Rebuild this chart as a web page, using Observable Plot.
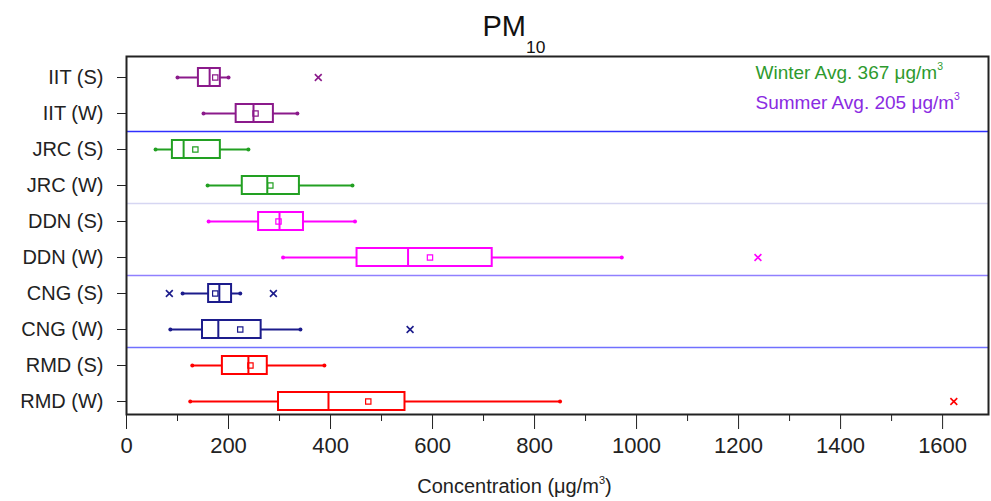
<!DOCTYPE html>
<html><head><meta charset="utf-8">
<script src="https://cdn.jsdelivr.net/npm/d3@7"></script>
<script src="https://cdn.jsdelivr.net/npm/@observablehq/plot@0.6"></script>
<style>
body{margin:0;background:#fff;font-family:"Liberation Sans",Arial,sans-serif}
#chart svg{display:block}
</style>
</head><body><div id="chart"></div>
<script>
// ---- data ----
const sites = ["IIT (S)","IIT (W)","JRC (S)","JRC (W)","DDN (S)","DDN (W)","CNG (S)","CNG (W)","RMD (S)","RMD (W)"];
const siteColors = ["#8b1a8b","#8b1a8b","#22a022","#22a022","#ff00ff","#ff00ff","#1c1c8c","#1c1c8c","#ff0000","#ff0000"];
const whiskerLow  = [100,151, 57,159,161,307,110, 86,129,125];
const quartile1   = [141,215, 90,227,259,452,161,149,188,298];
const medianValue = [163,249,112,276,300,552,182,180,239,396];
const quartile3   = [184,288,184,339,347,717,206,264,276,546];
const whiskerHigh = [200,335,239,443,448,971,223,341,388,850];
const meanValue   = [174,253,135,282,298,595,174,223,243,474];
const outlierSite  = ["IIT (S)","CNG (S)","CNG (S)","CNG (W)","DDN (W)","RMD (W)"];
const outlierValue = [376,84,288,556,1238,1622];
const separatorAfter = ["IIT (W)","JRC (W)","DDN (W)","CNG (W)"];
const separatorColor = ["#3030ff","#d6d6f2","#9080ff","#7070ff"];
const majorTicks = [0,200,400,600,800,1000,1200,1400,1600];
const minorTicks = [100,300,500,700,900,1100,1300,1500];
const titleText = "PM_{10}";
const xLabelText = "Concentration (μg/m^{3})";
const legendText = ["Winter Avg. 367 μg/m^{3}","Summer Avg. 205 μg/m^{3}"];
const legendColor = ["#2e9a2e","#8a2be2"];

// ---- tables ----
const rows = sites.map((s,i)=>({site:s,color:siteColors[i],lo:whiskerLow[i],q1:quartile1[i],med:medianValue[i],q3:quartile3[i],hi:whiskerHigh[i],mean:meanValue[i]}));
const outliers = outlierSite.map((s,i)=>({site:s,value:outlierValue[i],color:siteColors[sites.indexOf(s)]}));
const seps = separatorAfter.map((s,i)=>({site:s,color:separatorColor[i]}));

const plot = Plot.plot({
  width: 991, height: 501,
  marginTop: 56, marginBottom: 87, marginLeft: 126, marginRight: 3,
  style: {fontFamily:"'Liberation Sans', Arial, sans-serif", background:"#fff", color:"#222"},
  x: {domain:[0,1690]},
  y: {type:"band", domain:sites, range:[58.5,418.5], padding:0},
  color: {type:"identity"},
  marks: [
    Plot.ruleY(seps, {y:"site", stroke:"color", dy:18, strokeWidth:1.5}),
    Plot.ruleY(rows, {y:"site", x1:"lo", x2:"hi", stroke:"color", strokeWidth:2}),
    Plot.dot(rows, {y:"site", x:"lo", r:2, fill:"color", stroke:null}),
    Plot.dot(rows, {y:"site", x:"hi", r:2, fill:"color", stroke:null}),
    Plot.barX(rows, {y:"site", x1:"q1", x2:"q3", fill:"white", stroke:"color", strokeWidth:2, insetTop:9, insetBottom:9}),
    Plot.tickX(rows, {y:"site", x:"med", stroke:"color", strokeWidth:2, insetTop:9, insetBottom:9}),
    Plot.dot(rows, {y:"site", x:"mean", symbol:"square", r:3, stroke:"color", strokeWidth:1.2, fill:"none"}),
    Plot.dot(outliers, {y:"site", x:"value", symbol:"times", r:3.2, stroke:"color", strokeWidth:1.6}),
    Plot.axisX({ticks:majorTicks, tickSize:15, tickPadding:8, fontSize:22, label:null, stroke:"#222", tickFormat:d=>String(d)}),
    Plot.axisX({ticks:minorTicks, tickSize:7, tickFormat:()=>"", label:null, stroke:"#222"}),
    Plot.axisY({tickSize:9, tickPadding:14, fontSize:20, label:null, stroke:"#222"}),
    Plot.frame({stroke:"#222", strokeWidth:2}),
    Plot.text([titleText], {frameAnchor:"top", dx:-75, dy:-21, lineAnchor:"bottom", fontSize:29, fill:"#111", textAnchor:"start"}),
    Plot.text([xLabelText], {frameAnchor:"bottom", dx:-43, dy:72, lineAnchor:"middle", fontSize:20, fill:"#222"}),
    ...legendText.map((t,i)=>Plot.text([t], {frameAnchor:"top-left", dx:629, dy:16+i*30, lineAnchor:"middle", fontSize:19, fill:legendColor[i], textAnchor:"start"}))
  ]
});

// rich text: ^{..} superscript, _{..} subscript
function richify(svg){
  d3.select(svg).selectAll("text").each(function(){
    const t = this.textContent;
    if (!/[\^_]\{/.test(t)) return;
    const fs = parseFloat(getComputedStyle(this).fontSize) || 16;
    const el = d3.select(this);
    const parts = t.split(/([\^_]\{[^}]*\})/).filter(s=>s!=="");
    el.selectAll("*").remove();
    el.text(null);
    let shift = 0;
    parts.forEach(p=>{
      const m = p.match(/^([\^_])\{([^}]*)\}$/);
      const ts = el.append("tspan");
      if (m) {
        const target = m[1]==="^" ? -0.45*fs : 0.6*fs;
        ts.attr("dy", target-shift).attr("font-size", (m[1]==="^"?0.55:0.6)*fs).text(m[2]);
        shift = target;
      } else {
        ts.attr("dy", -shift).text(p);
        shift = 0;
      }
    });
  });
}
document.getElementById("chart").appendChild(plot);
richify(plot);
</script>
</body></html>
